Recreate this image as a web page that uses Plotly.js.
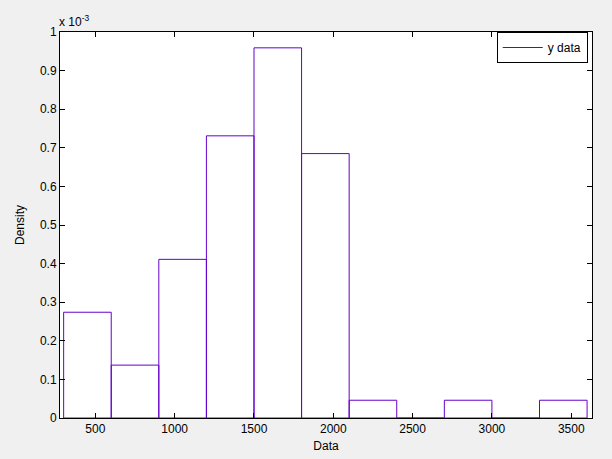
<!DOCTYPE html>
<html>
<head>
<meta charset="utf-8">
<script src="https://cdn.plot.ly/plotly-3.0.1.min.js"></script>
<style>html,body{margin:0;padding:0;background:#f0f0f0;}#chart{width:612px;height:459px;}</style>
</head>
<body>
<div id="chart"></div>
<script>
// Histogram bin edges (Data) and density per bin (in units of 1e-3)
const binEdges = [300, 600, 900, 1200, 1500, 1800, 2100, 2400, 2700, 3000, 3300, 3600];
const densityE3 = [0.274, 0.137, 0.411, 0.731, 0.959, 0.685, 0.046, 0, 0.046, 0, 0.046];
const xTicks = [500, 1000, 1500, 2000, 2500, 3000, 3500];
const yTicks = [0, 0.1, 0.2, 0.3, 0.4, 0.5, 0.6, 0.7, 0.8, 0.9, 1];

// Build outline of each bar from the data (closed rectangle per bin)
const ox = [], oy = [];
for (let i = 0; i < densityE3.length; i++) {
  const a = binEdges[i], b = binEdges[i + 1], v = densityE3[i];
  ox.push(a, a, b, b, a, null);
  oy.push(0, v, v, 0, 0, null);
}

const purple = 'rgb(102,0,204)';
const font = {family: 'Liberation Sans, Arial, sans-serif', size: 12, color: '#000'};

const traces = [{
  type: 'scatter', mode: 'lines', x: ox, y: oy, name: 'y data',
  line: {color: purple, width: 1}, connectgaps: false, hoverinfo: 'skip'
}];

const axisCommon = {
  showline: true, linecolor: '#000', linewidth: 1, mirror: 'ticks',
  ticks: 'inside', ticklen: 5, tickcolor: '#000', tickwidth: 1,
  showgrid: false, zeroline: false, tickfont: font
};

const layout = {
  width: 612, height: 459,
  paper_bgcolor: '#f0f0f0', plot_bgcolor: '#ffffff',
  margin: {l: 60, r: 20, t: 32, b: 41},
  font: font,
  showlegend: true,
  legend: {
    x: 0.992, y: 1.0, xanchor: 'right', yanchor: 'top',
    bgcolor: '#ffffff', bordercolor: '#000', borderwidth: 1,
    font: font, itemwidth: 40, tracegroupgap: 0
  },
  xaxis: Object.assign({}, axisCommon, {
    range: [277, 3631], tickvals: xTicks, ticktext: xTicks.map(String),
    title: {text: 'Data', font: font, standoff: 6}
  }),
  yaxis: Object.assign({}, axisCommon, {
    range: [0, 1], tickvals: yTicks, ticktext: yTicks.map(String),
    title: {text: 'Density', font: font, standoff: 12}
  }),
  annotations: [{
    xref: 'paper', yref: 'paper', x: 0, y: 1, xanchor: 'left', yanchor: 'bottom',
    xshift: -3, yshift: 1, showarrow: false, text: 'x 10<sup>-3</sup>', font: font
  }]
};

Plotly.newPlot('chart', traces, layout, {displayModeBar: false, staticPlot: true});
</script>
</body>
</html>
